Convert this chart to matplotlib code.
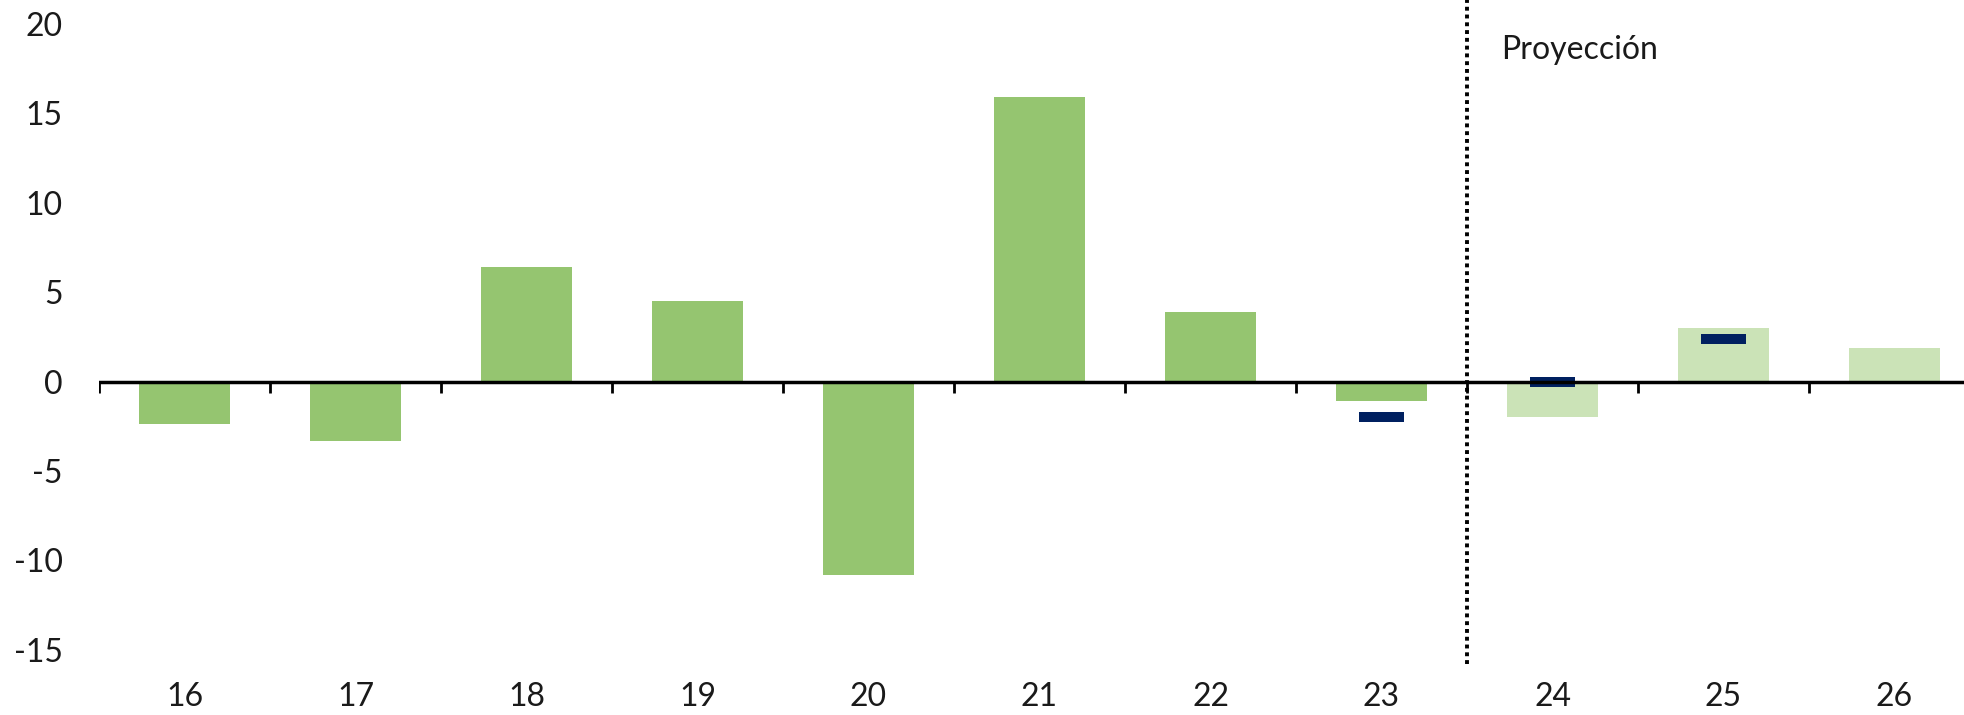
import numpy as np
from matplotlib import pyplot as plt

# datos
years = ['16', '17', '18', '19', '20', '21', '22', '23', '24', '25', '26']
values = [-2.4, -3.3, 6.4, 4.5, -10.8, 15.9, 3.9, -1.1, -2.0, 3.0, 1.9]
projected = [False] * 8 + [True] * 3
marker_years = ['23', '24', '25']
marker_values = [-2.0, 0.0, 2.4]

plt.rcParams['font.family'] = ['Lato', 'DejaVu Sans']

fig = plt.figure(figsize=(19.64, 7.15), dpi=100)
ax = fig.add_axes([99 / 1964, 51 / 715, 1 - 99 / 1964, 1 - 51 / 715])

x = np.arange(len(years))
colors = ['#CBE3B7' if p else '#95C570' for p in projected]
ax.bar(x, values, width=0.53, color=colors, zorder=2)

# marcadores (barras horizontales azul oscuro)
mx = [years.index(y) for y in marker_years]
mk_h = 0.56
ax.bar(mx, [mk_h] * len(mx), bottom=np.array(marker_values) - mk_h / 2,
       width=0.26, color='#002060', zorder=3)

ax.axhline(0, color='black', linewidth=2.5, zorder=4)
# marcas entre categorías
for b in np.arange(-0.5, len(years) - 0.5):
    ax.plot([b, b], [0, -0.62], color='black', linewidth=2, zorder=4,
            solid_capstyle='butt')

# línea de proyección
ax.axvline(7.5, color='black', linestyle=(0, (1, 1.0)), linewidth=2.8, zorder=5)
ax.text(7.7, 18.55, 'Proyección', fontsize=23, va='center', ha='left',
        color='#1a1a1a')

ax.set_xlim(-0.5, 10.5 - 16 / 171)
ax.set_ylim(-15.8, 21.34)
ax.set_yticks(np.arange(-15, 21, 5))
ax.set_yticklabels([str(v) for v in range(-15, 21, 5)])
ax.set_xticks(x)
ax.set_xticklabels(years)
ax.tick_params(axis='both', length=0, labelsize=23, labelcolor='#1a1a1a')
ax.tick_params(axis='y', pad=26)
ax.tick_params(axis='x', pad=13)
for s in ax.spines.values():
    s.set_visible(False)

fig.savefig('out.png', dpi=100)
